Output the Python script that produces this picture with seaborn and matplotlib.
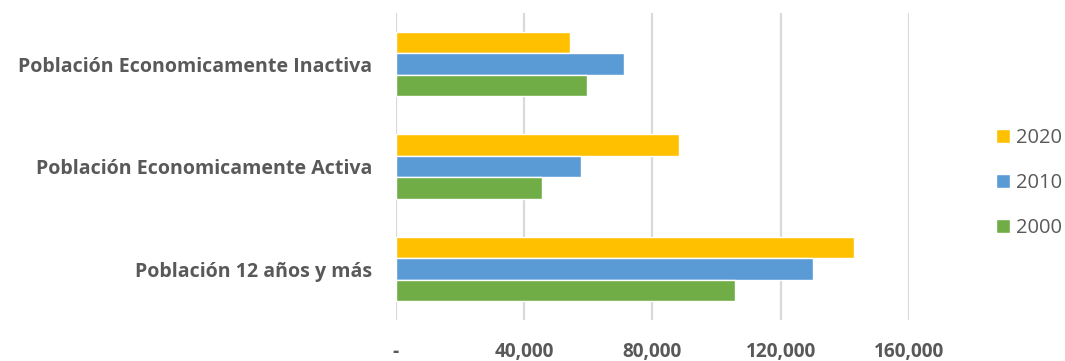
import matplotlib
matplotlib.use("Agg")
import matplotlib.pyplot as plt
import seaborn as sns
import pandas as pd
from matplotlib.ticker import FuncFormatter

categories = ["Población Economicamente Inactiva",
              "Población Economicamente Activa",
              "Población 12 años y más"]
years = ["2020", "2010", "2000"]
values_2020 = [54300, 88250, 143000]
values_2010 = [71100, 57950, 130000]
values_2000 = [59600, 45700, 105900]
xticks = [0, 40000, 80000, 120000, 160000]

series = {"2020": values_2020, "2010": values_2010, "2000": values_2000}
rows = []
for y in years:
    for c, v in zip(categories, series[y]):
        rows.append({"cat": c, "year": y, "value": v})
df = pd.DataFrame(rows)

sns.set_theme(style="white")
plt.rcParams["font.family"] = ["Open Sans", "DejaVu Sans"]

text_color = "#595959"
palette = {"2020": "#FFC000", "2010": "#5B9BD5", "2000": "#70AD47"}

fig = plt.figure(figsize=(10.65, 3.61), dpi=100)
ax = fig.add_axes([395.5 / 1065, 1 - 320.25 / 361, (909 - 395.5) / 1065, (320.25 - 12.75) / 361])

sns.barplot(data=df, y="cat", x="value", hue="year", order=categories,
            hue_order=years, palette=palette, orient="h", width=0.625,
            saturation=1, ax=ax, zorder=3)

ax.set_xlim(0, 160000)
ax.set_ylim(2.5, -0.5)
ax.set_xticks(xticks)
ax.xaxis.set_major_formatter(FuncFormatter(lambda v, p: "-" if v == 0 else f"{int(v):,}"))
ax.grid(axis="x", color="#D9D9D9", linewidth=1.6, zorder=0)
ax.grid(axis="y", visible=False)
for s in ax.spines.values():
    s.set_visible(False)
ax.set_xlabel("")
ax.set_ylabel("")
ax.tick_params(axis="x", length=0, pad=16, labelsize=13.7, labelcolor=text_color)
ax.tick_params(axis="y", length=0, pad=17, labelsize=14.1, labelcolor=text_color)
for lab in ax.get_xticklabels() + ax.get_yticklabels():
    lab.set_fontweight("bold")

handles, labels = ax.get_legend_handles_labels()
ax.legend(handles, labels, loc="center left", bbox_to_anchor=(996 / 1065, 1 - 183 / 361),
          bbox_transform=fig.transFigure, frameon=False, fontsize=14.5,
          labelcolor=text_color, handlelength=0.7, handleheight=0.7,
          handletextpad=0.3, labelspacing=1.24, borderaxespad=0, borderpad=0)

fig.savefig("out.png", dpi=100)
